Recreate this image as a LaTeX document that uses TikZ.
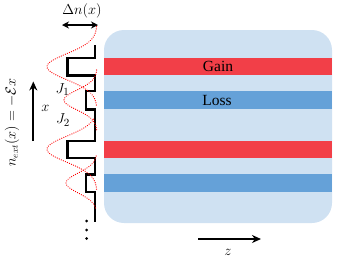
\documentclass[tikz,border=0pt]{standalone}
\usepackage{fontspec}
\setmainfont{Liberation Serif}
\usetikzlibrary{arrows.meta}
\definecolor{bgblue}{HTML}{CFE1F2}
\definecolor{gainred}{HTML}{F23F48}
\definecolor{lossblue}{HTML}{65A1D8}
\tikzset{
  mode/.style={red, line width=1.3pt, dash pattern=on 0.01pt off 2.2pt, line cap=round},
  profile/.style={black, line width=2.2pt, line join=miter},
  lbl/.style={inner sep=0pt, font=\fontsize{15}{17}\selectfont},
  stxt/.style={inner sep=0pt, font=\fontsize{15.5}{18}\selectfont},
  arr/.style={-{Stealth[length=9pt,width=8pt]}, line width=1.8pt},
}
\begin{document}
\begin{tikzpicture}[x=1pt,y=-1pt]
\useasboundingbox (0,0) rectangle (338,266);
% waveguide box
\fill[bgblue, rounded corners=20pt] (104,30) rectangle (332,223);
\fill[gainred] (104,58.3) rectangle (332,75.3);
\fill[lossblue] (104,90.5) rectangle (332,109.3);
\fill[gainred] (104,140.7) rectangle (332,157.7);
\fill[lossblue] (104,174) rectangle (332,191.7);
\node[stxt] (gain) at (218,66.8) {Gain};
\node[stxt] (loss) at (217,100) {Loss};
% index profile
\draw[profile] (95,45) -- (95,58.3) -- (67.5,58.3) -- (67.5,75.5) -- (95,75.5) -- (95,91) -- (86,91) -- (86,109.5) -- (95,109.5) -- (95,141) -- (67.5,141) -- (67.5,158) -- (95,158) -- (95,174.5) -- (86,174.5) -- (86,192) -- (95,192) -- (95,222);
% modes
\draw[mode] plot[domain=-40:40, samples=70] ({97-50*exp(-(\x*\x)/338)}, {66.7+\x});
\draw[mode] plot[domain=-30:30, samples=55] ({97-33*exp(-(\x*\x)/200)}, {100+\x});
\draw[mode] plot[domain=-30:40, samples=65] ({97-50*exp(-(\x*\x)/338)}, {149.2+\x});
\draw[mode] plot[domain=-27:27, samples=50] ({97-31*exp(-(\x*\x)/200)}, {183+\x});
% dots
\fill (86.7,221) circle (1.5pt) (86.7,230) circle (1.5pt) (86.7,238.5) circle (1.5pt);
% delta n arrow
\coordinate (dnl) at (62,25);
\coordinate (dnr) at (98,25);
\draw[{Stealth[length=7pt,width=7pt]}-{Stealth[length=7pt,width=7pt]}, line width=1.4pt] (dnl) -- (dnr);
\node[lbl] (dn) at (82,10.5) {$\Delta n(x)$};
% J labels
\node[lbl] (j1) at (62.5,89.5) {$J_1$};
\node[lbl] (j2) at (63,120) {$J_2$};
% x arrow
\coordinate (xa) at (33.3,141);
\coordinate (xb) at (33.3,81.5);
\draw[arr] (xa) -- (xb);
\node[lbl] (xl) at (45.5,108) {$x$};
% rotated label
\node[lbl, rotate=90, font=\fontsize{13.5}{16}\selectfont] (next) at (12,122.5) {$n_{ext}(x)=-\mathcal{E}x$};
% z arrow
\coordinate (za) at (198,239);
\coordinate (zb) at (261,239);
\draw[arr, line width=1.6pt] (za) -- (zb);
\node[lbl] (zl) at (228,252) {$z$};
\end{tikzpicture}
\end{document}
